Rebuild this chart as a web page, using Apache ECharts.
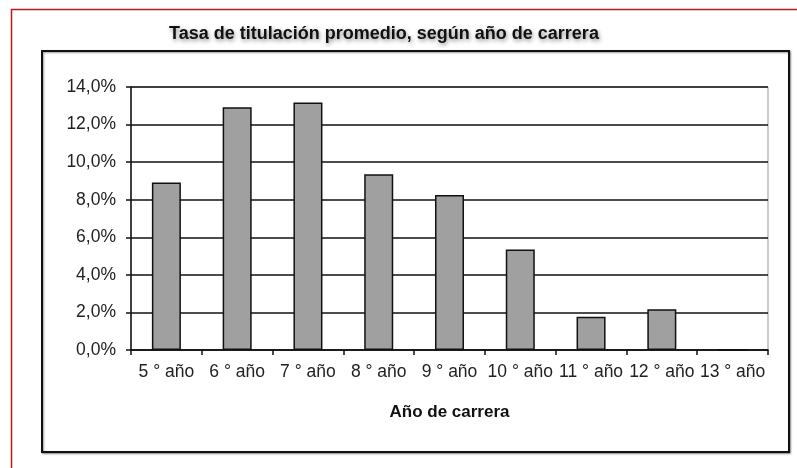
<!DOCTYPE html>
<html>
<head>
<meta charset="utf-8">
<script src="https://cdn.jsdelivr.net/npm/echarts@6/dist/echarts.min.js"></script>
<style>
  html, body { margin: 0; padding: 0; background: #fff; }
  #chart { width: 797px; height: 468px; }
</style>
</head>
<body>
<div id="chart"></div>
<script>
var categories = ['5 ° año', '6 ° año', '7 ° año', '8 ° año', '9 ° año', '10 ° año', '11 ° año', '12 ° año', '13 ° año'];
var tasa = [8.92, 12.92, 13.18, 9.35, 8.25, 5.35, 1.77, 2.17, 0];

var chart = echarts.init(document.getElementById('chart'));

var option = {
    animation: false,
    textStyle: { fontFamily: 'Liberation Sans, Arial, sans-serif' },
    graphic: [
        // red frame of the page
        { type: 'rect', left: 9, top: 7, shape: { width: 800, height: 470 },
          style: { fill: 'none', stroke: '#c0151b', lineWidth: 1.5 }, z: -1 },
        // chart box
        { type: 'rect', left: 41, top: 50, shape: { width: 747, height: 401 },
          style: { fill: '#fff', stroke: '#111', lineWidth: 2,
                   shadowBlur: 2, shadowColor: 'rgba(0,0,0,0.4)', shadowOffsetX: 1, shadowOffsetY: 1 }, z: -1 }
    ],
    title: {
        text: 'Tasa de titulación promedio, según año de carrera',
        left: 379, top: 20, textAlign: 'center',
        textStyle: { fontSize: 18, fontWeight: 'bold', color: '#111',
                     textShadowColor: 'rgba(0,0,0,0.45)', textShadowBlur: 4, textShadowOffsetX: 1, textShadowOffsetY: 2 }
    },
    grid: { left: 131, right: 29, top: 87, bottom: 118, show: true, borderColor: '#999', borderWidth: 1 },
    xAxis: {
        type: 'category',
        data: categories,
        name: 'Año de carrera',
        nameLocation: 'middle',
        nameGap: 54,
        nameTextStyle: { fontSize: 17, fontWeight: 'bold', color: '#111' },
        axisLine: { lineStyle: { color: '#111', width: 1.5 } },
        axisTick: { show: true, length: 5, lineStyle: { color: '#111', width: 1.5 } },
        axisLabel: { fontSize: 17.5, color: '#222', margin: 13, interval: 0 }
    },
    yAxis: {
        type: 'value',
        min: 0, max: 14, interval: 2,
        axisLine: { show: true, lineStyle: { color: '#111', width: 1.5 } },
        axisTick: { show: true, length: 5, lineStyle: { color: '#111', width: 1.5 } },
        axisLabel: { fontSize: 17.5, color: '#222', margin: 15,
                     formatter: function (v) { return v.toFixed(1).replace('.', ',') + '%'; } },
        splitLine: { lineStyle: { color: '#111', width: 1.5 } }
    },
    series: [{
        type: 'bar',
        data: tasa,
        barWidth: '41%',
        itemStyle: { color: '#a0a0a0', borderColor: '#111', borderWidth: 1.5 }
    }]
};

chart.setOption(option);
</script>
</body>
</html>
